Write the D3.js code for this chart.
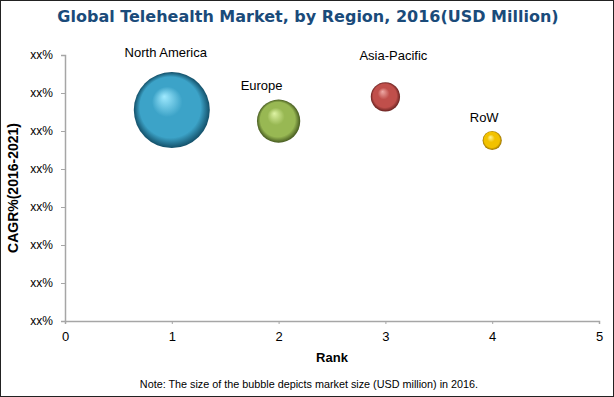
<!DOCTYPE html>
<html>
<head>
<meta charset="utf-8">
<script src="https://cdn.jsdelivr.net/npm/d3@7"></script>
<style>
  html, body { margin: 0; padding: 0; background: #fff; }
  svg { display: block; font-family: "Liberation Sans", Arial, sans-serif; }
</style>
</head>
<body>
<div id="chart"></div>
<script>
// chart data
const regions = ["North America", "Europe", "Asia-Pacific", "RoW"];
const rank = [1, 2, 3, 4];
const cagr = [5.55, 5.26, 5.9, 4.75];
const marketSize = [1450, 470, 215, 92];   // USD million (relative bubble sizes)
const yTicks = [0, 1, 2, 3, 4, 5, 6, 7];
const yTickLabels = ["xx%", "xx%", "xx%", "xx%", "xx%", "xx%", "xx%", "xx%"];
const xTicks = [0, 1, 2, 3, 4, 5];

// bubble colours: highlight, body, shade
const palette = [
  ["#a0eaff", "#3ca3c8", "#134f68"],
  ["#def3a4", "#98b853", "#465a20"],
  ["#eeaaa6", "#c04f4b", "#6a2321"],
  ["#fff59a", "#f2c200", "#966e00"]
];
// label nudges relative to bubble centre
const labelDx = [-6, -17, 8, -8];
const labelDy = [-53, -31, -37, -19];

const width = 614, height = 397;
const margin = { top: 55, right: 15, bottom: 76, left: 65 };

const svg = d3.select("#chart").append("svg")
  .attr("width", width)
  .attr("height", height);

svg.append("rect")
  .attr("x", 0.5).attr("y", 0.5)
  .attr("width", width - 1).attr("height", height - 1)
  .attr("fill", "#fff")
  .attr("stroke", "#222");

const x = d3.scaleLinear().domain([0, 5]).range([margin.left, width - margin.right]);
const y = d3.scaleLinear().domain([0, 7]).range([height - margin.bottom, margin.top]);
const r = d3.scaleSqrt().domain([0, d3.max(marketSize)]).range([0, 38]);

// gradients
const defs = svg.append("defs");
palette.forEach((c, i) => {
  const g = defs.append("radialGradient")
    .attr("id", "ball" + i)
    .attr("cx", "50%").attr("cy", "50%").attr("r", "50%")
    .attr("fx", "40%").attr("fy", "32%");
  g.append("stop").attr("offset", "0%").attr("stop-color", c[0]);
  g.append("stop").attr("offset", "40%").attr("stop-color", c[1]);
  g.append("stop").attr("offset", "80%").attr("stop-color", c[1]);
  g.append("stop").attr("offset", "100%").attr("stop-color", c[2]);
});

// title
svg.append("text")
  .attr("x", 308)
  .attr("y", 22)
  .attr("text-anchor", "middle")
  .style("font-family", "'DejaVu Sans', Verdana, sans-serif")
  .style("font-weight", "bold")
  .style("font-size", "16px")
  .attr("fill", "#1a4b7a")
  .text("Global Telehealth Market, by Region, 2016(USD Million)");

// y axis
const yAxis = svg.append("g")
  .attr("transform", `translate(${margin.left},0)`)
  .call(d3.axisLeft(y).tickValues(yTicks).tickFormat((d, i) => yTickLabels[i]).tickSize(4).tickPadding(8));
yAxis.select(".domain").attr("stroke", "#a6a6a6").attr("stroke-width", 1.5);
yAxis.selectAll(".tick line").attr("stroke", "#a6a6a6");
yAxis.selectAll(".tick text").attr("fill", "#000").style("font-size", "12px").style("font-family", "'Liberation Sans', Arial, sans-serif");

// x axis
const xAxis = svg.append("g")
  .attr("transform", `translate(0,${y(0)})`)
  .call(d3.axisBottom(x).tickValues(xTicks).tickFormat(d3.format("d")).tickSize(3).tickSizeOuter(3).tickPadding(8));
xAxis.select(".domain").attr("stroke", "#a6a6a6").attr("stroke-width", 1.5);
xAxis.selectAll(".tick line").attr("stroke", "#a6a6a6");
xAxis.selectAll(".tick text").attr("fill", "#000").style("font-size", "13px").style("font-family", "'Liberation Sans', Arial, sans-serif");

// axis titles
svg.append("text")
  .attr("x", (x(0) + x(5)) / 2)
  .attr("y", 362)
  .attr("text-anchor", "middle")
  .style("font-weight", "bold")
  .style("font-size", "13px")
  .text("Rank");

svg.append("text")
  .attr("transform", `translate(18,${(y(0) + y(7)) / 2}) rotate(-90)`)
  .attr("text-anchor", "middle")
  .style("font-weight", "bold")
  .style("font-size", "14px")
  .text("CAGR%(2016-2021)");

// bubbles
const data = regions.map((name, i) => ({ name, rank: rank[i], cagr: cagr[i], size: marketSize[i], i }));

svg.append("g")
  .selectAll("circle")
  .data(data)
  .join("circle")
  .attr("cx", d => x(d.rank))
  .attr("cy", d => y(d.cagr))
  .attr("r", d => r(d.size))
  .attr("fill", d => `url(#ball${d.i})`);

svg.append("g")
  .selectAll("text")
  .data(data)
  .join("text")
  .attr("x", d => x(d.rank) + labelDx[d.i])
  .attr("y", d => y(d.cagr) + labelDy[d.i])
  .attr("text-anchor", "middle")
  .style("font-size", "13px")
  .text(d => d.name);

// note
svg.append("text")
  .attr("x", 309)
  .attr("y", 388)
  .attr("text-anchor", "middle")
  .style("font-size", "10.8px")
  .text("Note: The size of the bubble depicts market size (USD million) in 2016.");
</script>
</body>
</html>
